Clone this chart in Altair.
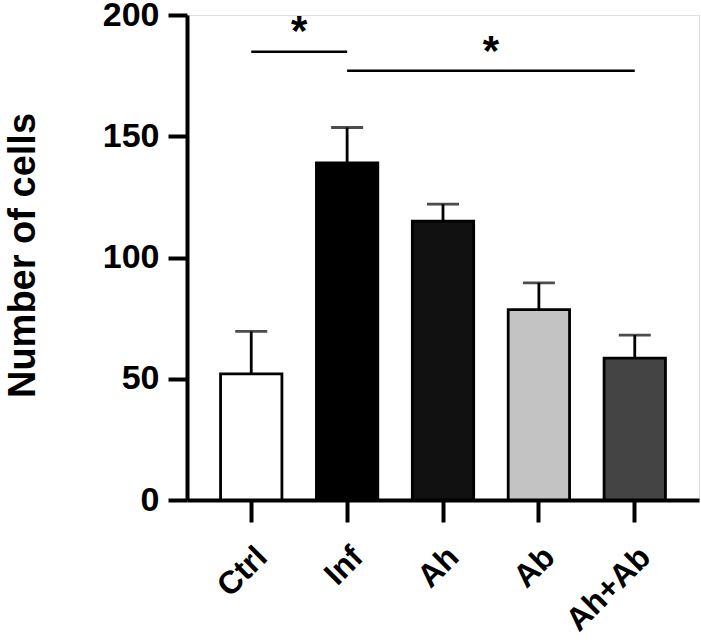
import altair as alt
import pandas as pd

# Group means and upper SEM of cell counts
groups = ["Ctrl", "Inf", "Ah", "Ab", "Ah+Ab"]
means = [52, 139, 115, 78.5, 58.5]
sems = [17.5, 14.6, 7.0, 11.0, 9.5]

# Significance brackets: start group, end group, bracket level, star level
sig_from = ["Ctrl", "Inf"]
sig_to = ["Inf", "Ah+Ab"]
sig_level = [184.8, 177.0]
star_level = [187.5, 179.5]

palette = ["#ffffff", "#000000", "#111111", "#c3c3c3", "#444444"]
FONT = "Liberation Sans"

W, H = 512, 485
P_INNER, P_OUTER = 0.36, 0.35
step = W / (len(groups) - P_INNER + 2 * P_OUTER)

df = pd.DataFrame({"group": groups, "mean": means, "sem": sems})
df["top"] = df["mean"] + df["sem"]
sig = pd.DataFrame({"from": sig_from, "to": sig_to, "level": sig_level, "star": star_level})

xscale = alt.Scale(domain=groups, paddingInner=P_INNER, paddingOuter=P_OUTER)
yscale = alt.Scale(domain=[0, 200], nice=False)

x_axis = alt.Axis(
    labelAngle=-45, labelAlign="right", labelBaseline="top", labelPadding=19,
    labelFontSize=32, labelFont=FONT, labelFontWeight="bold", labelColor="black",
    tickSize=22, tickWidth=4, tickColor="black", domainWidth=4, domainColor="black",
    title=None,
)
y_axis = alt.Axis(
    values=[0, 50, 100, 150, 200], grid=False,
    labelFontSize=34, labelFont=FONT, labelFontWeight="bold", labelColor="black",
    labelPadding=9, tickSize=19, tickWidth=4, tickColor="black",
    domainWidth=4, domainColor="black",
    title="Number of cells", titleFont=FONT, titleFontSize=38, titleFontWeight="bold",
    titleColor="black", titleAngle=-90, titleX=-153, titleY=240,
    titleAlign="center", titleBaseline="alphabetic",
)

X = alt.X("group:N", sort=groups, scale=xscale, axis=x_axis, title=None)
base = alt.Chart(df)

bars = base.mark_bar(stroke="black", strokeWidth=2.8).encode(
    x=X,
    y=alt.Y("mean:Q", scale=yscale, axis=y_axis),
    fill=alt.Fill("group:N", scale=alt.Scale(domain=groups, range=palette), legend=None),
)

stems = base.mark_rule(color="black", strokeWidth=2.8).encode(
    x=X, y=alt.Y("mean:Q", scale=yscale), y2="top:Q"
)

caps = base.mark_tick(color="black", size=32, thickness=2.8).encode(
    x=X, y=alt.Y("top:Q", scale=yscale)
)

brackets = alt.Chart(sig).mark_rule(color="black", strokeWidth=2.5).encode(
    x=alt.X("from:N", sort=groups, scale=xscale, title=None),
    x2="to:N",
    y=alt.Y("level:Q", scale=yscale),
)

layers = [bars, stems, caps, brackets]

# One asterisk per bracket, centred between its two groups
for i in range(len(sig)):
    row = sig.iloc[[i]]
    span = groups.index(row["to"].iloc[0]) - groups.index(row["from"].iloc[0])
    star = alt.Chart(row).mark_text(
        text="*", font=FONT, fontSize=42, fontWeight="bold", color="black",
        baseline="alphabetic", align="center", dx=span * step / 2,
    ).encode(
        x=alt.X("from:N", sort=groups, scale=xscale, title=None),
        y=alt.Y("star:Q", scale=yscale),
    )
    layers.append(star)

chart = alt.layer(*layers).properties(
    width=W, height=H,
    autosize=alt.AutoSizeParams(type="none"),
    padding={"left": 187, "top": 15, "right": 2, "bottom": 142},
).configure_view(stroke=None).configure(background="white")

chart.save("out.html", embed_options={"renderer": "svg", "actions": False})
